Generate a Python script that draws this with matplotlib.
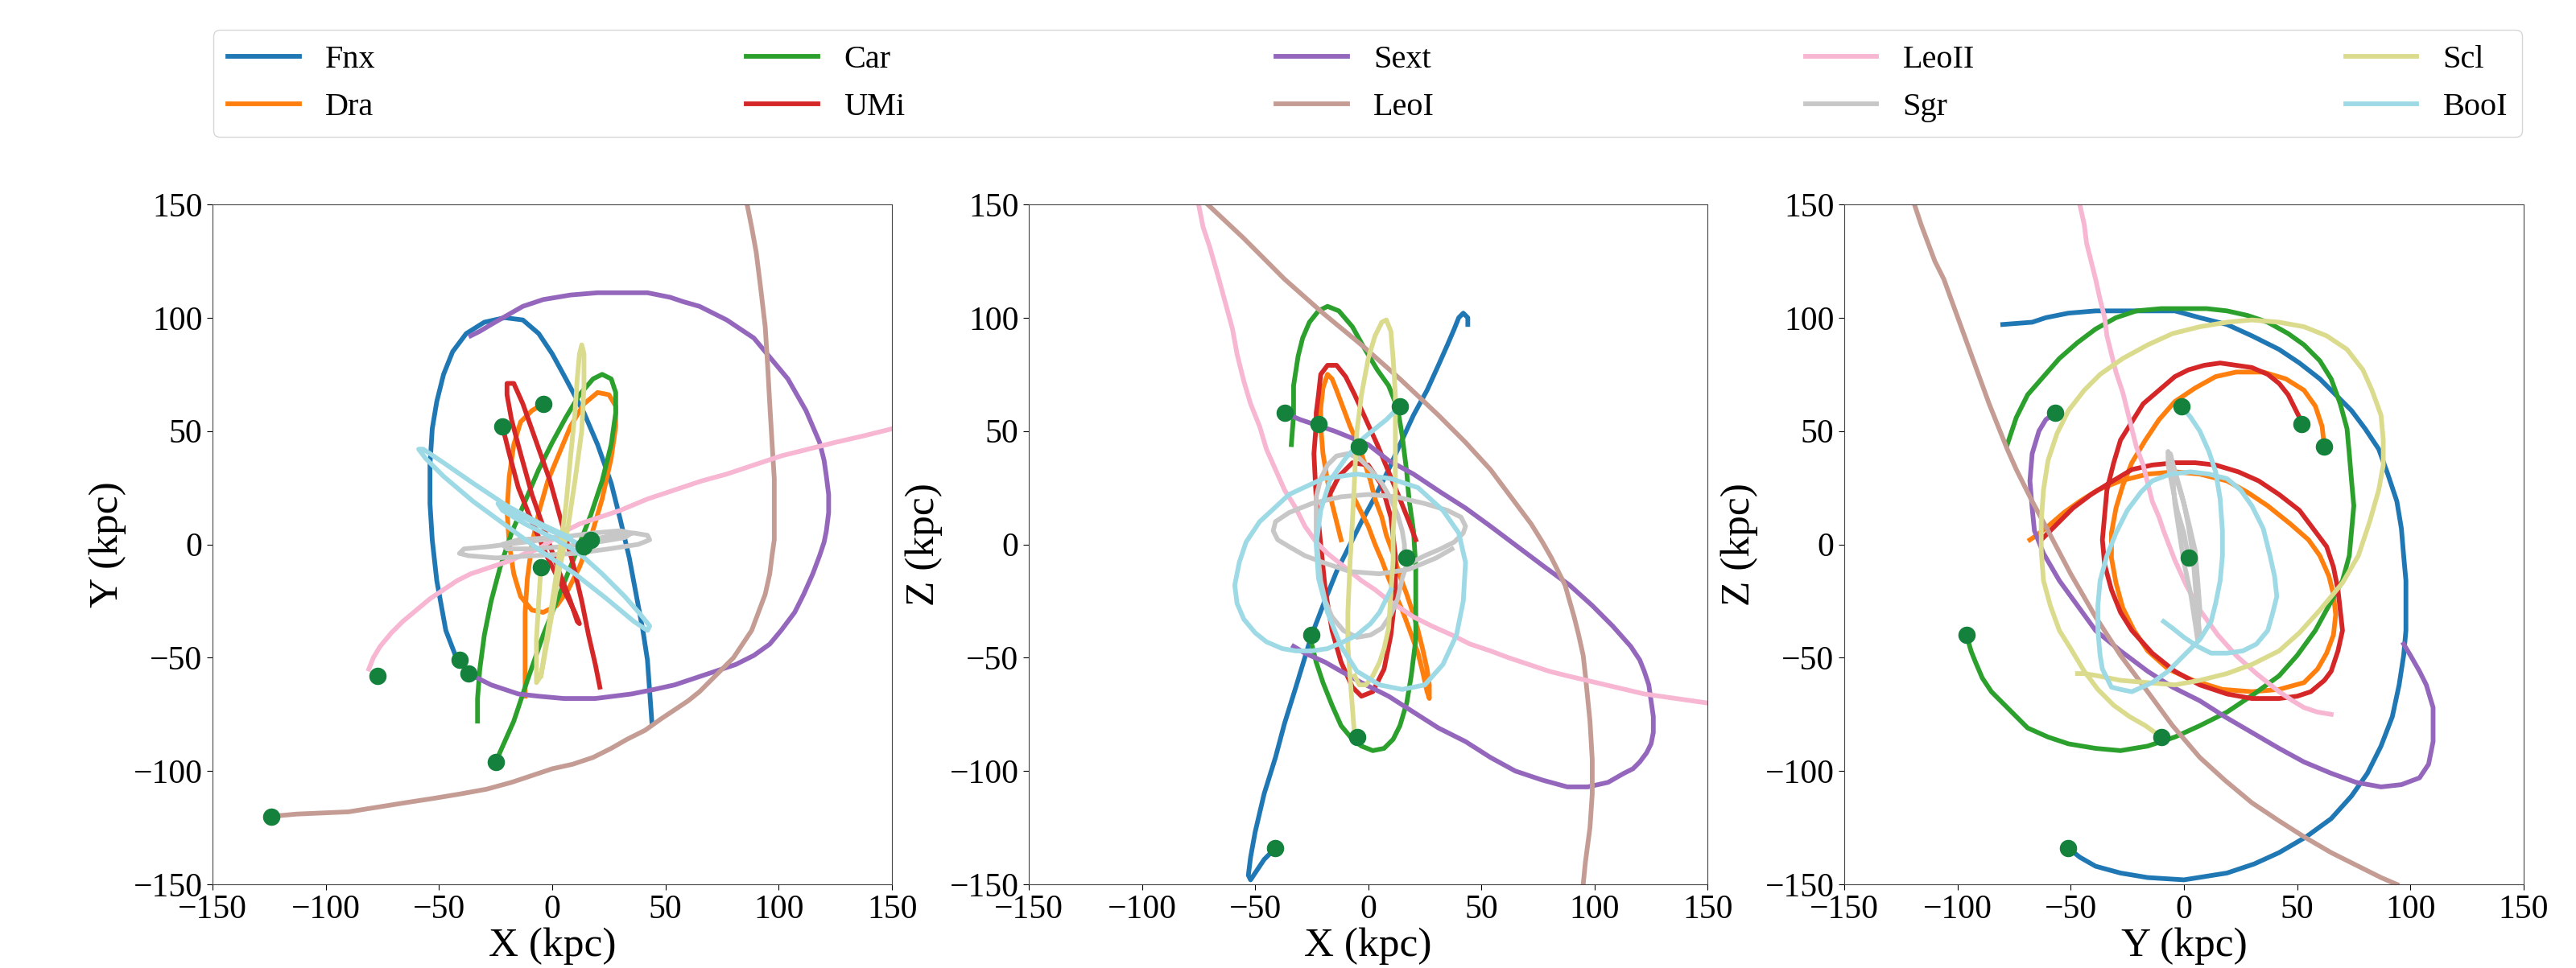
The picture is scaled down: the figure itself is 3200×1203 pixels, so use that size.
import matplotlib.pyplot as plt
import numpy as np

# Galaxias en el orden de la leyenda
names = ['Fnx', 'Dra', 'Car', 'UMi', 'Sext', 'LeoI', 'LeoII', 'Sgr', 'Scl', 'BooI']
colors = ['#1f77b4', '#ff7f0e', '#2ca02c', '#d62728', '#9467bd',
          '#c49c94', '#f7b6d2', '#c7c7c7', '#dbdb8d', '#9edae5']

# Posiciones actuales (kpc)
pos_x = [-41, -4, -25, -22, -37, -124, -77, 17, -5, 14]
pos_y = [-51, 62, -96, 52, -57, -120, -58, 2, -10, -1]
pos_z = [-134, 43, -40, 53, 58, 191, 215, -6, -85, 61]

# ---- Orbitas proyectadas en el plano X-Y ----
fnx_xy = [(-42, -51), (-47, -38), (-51, -16), (-53, 2), (-54, 18), (-54, 35), (-53, 51), (-51, 63),
          (-48, 75), (-44, 85), (-38, 93), (-30, 98), (-21, 100), (-13, 99), (-6, 93), (0, 84), (6, 73),
          (14, 58), (20, 44), (26, 27), (30, 11), (34, -6), (37, -22), (40, -38), (42, -51), (43, -65),
          (44, -79)]
dra_xy = [(-4, 62), (-9, 59), (-14, 54), (-17, 44), (-19, 30), (-20, 15), (-19, 0), (-17, -13), (-14, -23),
          (-9, -29), (-4, -30), (2, -27), (7, -20), (12, -10), (17, 3), (22, 20), (26, 38), (28, 52),
          (28, 61), (25, 66), (20, 67), (14, 62), (8, 52), (3, 40), (-2, 28), (-6, 14), (-9, 0),
          (-11, -15), (-12, -30), (-12, -45), (-12, -58), (-12, -67)]
car_xy = [(-25, -96), (-21, -87), (-17, -78), (-11, -60), (-4, -40), (4, -20), (10, -5), (17, 13),
          (22, 28), (26, 44), (28, 58), (28, 67), (26, 73), (22, 75), (18, 73), (12, 66), (6, 56),
          (0, 45), (-6, 33), (-12, 19), (-18, 5), (-23, -10), (-27, -25), (-30, -40), (-32, -55),
          (-33, -68), (-33, -78)]
umi_xy = [(-22, 52), (-19, 40), (-15, 25), (-9, 10), (-2, -6), (5, -20), (10, -30), (12, -35), (11, -34),
          (8, -25), (3, -12), (-3, 5), (-9, 22), (-14, 40), (-18, 55), (-20, 66), (-20, 71), (-17, 71),
          (-13, 62), (-7, 45), (-1, 28), (4, 10), (9, -8), (13, -25), (16, -40), (19, -53), (21, -63)]
sext_xy = [(-37, -57), (-27, -62), (-15, -66), (-6, -67), (5, -68), (19, -68), (35, -66), (45, -64),
           (54, -62), (63, -59), (72, -56), (81, -53), (89, -49), (96, -44), (101, -38), (107, -30),
           (111, -22), (115, -13), (118, -5), (120, 1), (121, 6), (122, 14), (122, 22), (121, 30),
           (120, 37), (118, 45), (115, 52), (112, 59), (108, 66), (104, 73), (99, 79), (94, 85),
           (89, 91), (83, 95), (77, 99), (71, 102), (65, 105), (58, 107), (52, 109), (42, 111),
           (30, 111), (20, 111), (8, 110), (-4, 108), (-13, 105), (-20, 101), (-27, 97), (-32, 94),
           (-36, 92)]
leoi_xy = [(-124, -120), (-113, -119), (-90, -118), (-65, -114), (-52, -112), (-40, -110), (-29, -108),
           (-18, -105), (-9, -102), (0, -99), (9, -97), (18, -94), (26, -90), (33, -86), (41, -82),
           (48, -77), (54, -73), (60, -69), (65, -65), (70, -60), (75, -55), (80, -50), (84, -44),
           (88, -38), (91, -30), (94, -22), (96, -13), (97, -5), (98, 2), (98, 10), (98, 20), (98, 29),
           (97, 45), (96, 62), (95, 80), (94, 96), (92, 113), (90, 129), (88, 140), (86, 150)]
leoii_xy = [(-81, -55), (-79, -50), (-76, -45), (-71, -39), (-66, -34), (-60, -29), (-54, -24), (-48, -20),
            (-42, -16), (-36, -13), (-30, -11), (-24, -9), (-18, -7), (-12, -4), (-6, -2), (0, 2), (6, 6),
            (12, 9), (18, 11), (30, 15), (42, 20), (54, 24), (66, 28), (77, 31), (89, 35), (101, 39),
            (113, 42), (125, 45), (138, 48), (150, 51)]
sgr_xy = [(17, 2), (27, 4), (36, 5), (42, 4), (43, 2), (38, 0), (25, -2), (10, -4), (-8, -5), (-25, -6),
          (-37, -5), (-41, -4), (-39, -2), (-28, -1), (-12, 1), (3, 3), (18, 5), (30, 6), (35, 5),
          (32, 3), (20, 1), (5, -1), (-10, -2), (-20, -2), (-22, 0), (-15, 2), (0, 3)]
scl_xy = [(-5, -10), (-6, -25), (-7, -42), (-7, -55), (-7, -61), (-5, -58), (-3, -45), (0, -25), (3, -5),
          (6, 17), (8, 38), (10, 58), (11, 73), (12, 84), (13, 88), (14, 84), (14, 70), (13, 50),
          (10, 28), (7, 8), (3, -12), (0, -30), (-3, -47), (-5, -58)]
booi_xy = [(14, -1), (6, 3), (-5, 8), (-15, 13), (-22, 17), (-24, 18), (-22, 15), (-12, 9), (0, 3),
           (12, -4), (22, -13), (32, -23), (39, -31), (43, -36), (42, -38), (36, -34), (24, -24),
           (10, -13), (-5, -3), (-20, 8), (-35, 19), (-48, 30), (-56, 38), (-59, 42), (-57, 42),
           (-48, 36), (-35, 27), (-20, 17), (-5, 9), (8, 3)]

# ---- Plano X-Z ----
fnx_xz = [(-41, -134), (-46, -139), (-50, -145), (-52, -148), (-53, -146), (-52, -138), (-50, -127),
          (-46, -110), (-41, -94), (-37, -79), (-32, -63), (-25, -40), (-20, -27), (-14, -12), (-8, 0),
          (-3, 10), (3, 21), (9, 33), (14, 44), (20, 57), (26, 68), (31, 79), (35, 88), (38, 95),
          (40, 100), (42, 102), (44, 100), (44, 97)]
dra_xz = [(-12, 2), (-14, 10), (-16, 18), (-18, 28), (-20, 40), (-21, 52), (-21, 60), (-20, 69), (-18, 75),
          (-16, 73), (-14, 68), (-11, 60), (-8, 52), (-4, 43), (-2, 37), (1, 28), (3, 20), (6, 12), (8, 4),
          (11, -4), (14, -14), (17, -22), (20, -31), (22, -38), (24, -46), (26, -55), (27, -62),
          (27, -68), (26, -65), (24, -56), (22, -48), (18, -37), (15, -29), (12, -22), (9, -15), (6, -7),
          (3, 0), (0, 8), (-3, 14), (-6, 20)]
car_xz = [(-26, -40), (-23, -52), (-20, -61), (-16, -71), (-12, -80), (-7, -86), (-3, -89), (2, -91),
          (7, -90), (11, -86), (14, -80), (17, -70), (19, -58), (21, -42), (21, -26), (21, -10), (20, 6),
          (18, 20), (17, 32), (15, 48), (13, 60), (9, 70), (4, 77), (-2, 87), (-7, 96), (-13, 103),
          (-18, 105), (-22, 103), (-26, 98), (-29, 91), (-31, 83), (-33, 70), (-33, 57), (-34, 44)]
umi_xz = [(21, 2), (18, 10), (14, 20), (9, 32), (4, 44), (-1, 55), (-6, 66), (-10, 74), (-14, 79),
          (-18, 79), (-21, 75), (-22, 66), (-23, 58), (-23, 53), (-24, 40), (-23, 20), (-21, 0),
          (-19, -20), (-16, -38), (-12, -52), (-7, -63), (-3, -67), (2, -65), (7, -55), (10, -40),
          (12, -22), (12, -5), (10, 12), (6, 26), (0, 35), (-7, 36), (-13, 30), (-18, 20)]
sext_xz = [(-37, 58), (-30, 55), (-15, 50), (0, 44), (9, 37), (20, 31), (32, 23), (43, 16), (54, 8),
           (66, -1), (78, -10), (89, -18), (99, -27), (108, -36), (116, -45), (120, -51), (122, -56),
           (124, -62), (125, -69), (126, -76), (126, -83), (125, -88), (123, -92), (120, -96), (117, -99),
           (113, -101), (106, -105), (97, -107), (88, -107), (77, -104), (65, -100), (54, -94), (43, -87),
           (31, -81), (20, -74), (9, -67), (-3, -61), (-12, -56), (-19, -52), (-28, -48), (-33, -45)]
leoi_xz = [(-71, 150), (-55, 135), (-37, 117), (-20, 102), (-3, 88), (14, 73), (31, 57), (43, 45),
           (54, 33), (60, 25), (66, 17), (72, 9), (77, 1), (81, -6), (84, -12), (87, -18), (89, -25),
           (91, -32), (93, -40), (95, -49), (96, -58), (97, -68), (98, -78), (99, -95), (99, -110),
           (98, -125), (96, -140), (95, -150)]
leoii_xz = [(-75, 150), (-73, 140), (-70, 131), (-68, 124), (-66, 117), (-63, 106), (-60, 95), (-58, 84),
            (-55, 72), (-52, 62), (-48, 52), (-45, 42), (-41, 33), (-37, 24), (-32, 16), (-28, 8),
            (-23, 1), (-18, -4), (-13, -8), (-8, -12), (-3, -16), (3, -20), (8, -24), (14, -28),
            (20, -32), (28, -36), (37, -40), (45, -44), (54, -47), (62, -50), (71, -53), (80, -56),
            (88, -58), (105, -62), (122, -66), (136, -68), (150, -70)]
sgr_xz = [(16, -6), (16, 0), (15, 6), (13, 13), (10, 20), (6, 27), (1, 33), (-4, 38), (-9, 40), (-14, 39),
          (-18, 35), (-21, 29), (-23, 21), (-23, 12), (-23, 3), (-22, -7), (-21, -16), (-19, -25),
          (-16, -32), (-11, -38), (-5, -41), (1, -40), (6, -37), (10, -31), (13, -24), (15, -15),
          (17, -9), (25, -5), (32, -2), (38, 1), (42, 5), (43, 8), (41, 12), (35, 15), (25, 18),
          (12, 21), (0, 22), (-12, 21), (-25, 18), (-35, 14), (-41, 10), (-42, 6), (-40, 2), (-35, -1),
          (-28, -5), (-20, -8), (-8, -12), (5, -13), (18, -11), (30, -6), (37, -2)]
scl_xz = [(-6, -85), (-7, -72), (-8, -59), (-9, -45), (-9, -30), (-8, -7), (-7, 10), (-6, 30), (-5, 50),
          (-3, 66), (0, 82), (3, 92), (6, 98), (8, 99), (10, 94), (11, 82), (12, 66), (12, 52), (12, 35),
          (12, 22), (11, 5), (11, -7), (10, -22), (9, -37), (7, -46), (5, -52), (2, -58), (-1, -62),
          (-4, -62), (-6, -58)]
booi_xz = [(14, 61), (8, 55), (-2, 47), (-10, 38), (-17, 28), (-21, 15), (-23, 0), (-22, -15), (-18, -30),
           (-12, -45), (-5, -56), (5, -62), (15, -64), (25, -62), (33, -53), (39, -40), (42, -25),
           (43, -8), (40, 5), (33, 15), (22, 25), (10, 29), (-5, 31), (-20, 29), (-35, 22), (-48, 10),
           (-54, 1), (-57, -8), (-59, -18), (-58, -26), (-55, -33), (-50, -39), (-45, -43), (-38, -46),
           (-32, -47), (-25, -47), (-18, -46), (-11, -43), (-5, -40), (1, -35), (5, -30), (10, -20)]

# ---- Plano Y-Z ----
fnx_yz = [(-51, -134), (-46, -138), (-39, -142), (-28, -145), (-16, -147), (0, -148), (19, -145),
          (31, -141), (42, -136), (54, -129), (65, -121), (74, -111), (81, -101), (87, -89), (92, -76),
          (95, -62), (97, -49), (98, -38), (98, -27), (98, -16), (97, -5), (96, 7), (94, 19), (90, 31),
          (86, 42), (80, 51), (74, 59), (67, 66), (60, 73), (51, 80), (42, 86), (30, 92), (19, 97),
          (7, 100), (-4, 103), (-16, 103), (-28, 103), (-39, 103), (-51, 102), (-61, 100), (-67, 98),
          (-80, 97)]
dra_yz = [(62, 43), (61, 52), (58, 61), (53, 68), (45, 73), (35, 76), (23, 76), (14, 74), (5, 69), (-4, 63),
          (-11, 55), (-17, 46), (-23, 36), (-27, 26), (-30, 16), (-32, 5), (-32, -6), (-30, -17),
          (-27, -28), (-22, -38), (-16, -47), (-7, -55), (4, -60), (17, -64), (30, -65), (42, -64),
          (53, -61), (59, -55), (63, -48), (66, -40), (67, -31), (66, -22), (64, -14), (60, -5), (55, 2),
          (47, 9), (37, 17), (28, 23), (19, 28), (7, 31), (-4, 32), (-16, 31), (-28, 28), (-38, 24),
          (-46, 19), (-53, 14), (-60, 8), (-65, 4), (-68, 2)]
car_yz = [(-96, -40), (-94, -47), (-92, -52), (-89, -59), (-85, -65), (-77, -73), (-69, -81), (-60, -85),
          (-51, -88), (-39, -90), (-28, -91), (-16, -89), (-4, -85), (7, -80), (19, -74), (31, -66),
          (42, -58), (50, -49), (58, -38), (64, -27), (70, -16), (73, -5), (74, 6), (75, 17), (74, 28),
          (73, 40), (72, 51), (69, 62), (65, 73), (60, 81), (53, 88), (46, 93), (37, 98), (28, 101),
          (19, 103), (10, 104), (0, 104), (-10, 104), (-21, 103), (-30, 100), (-39, 95), (-47, 89),
          (-55, 82), (-62, 74), (-69, 66), (-74, 56), (-78, 44)]
umi_yz = [(52, 54), (49, 60), (46, 66), (42, 71), (37, 75), (30, 78), (23, 79), (16, 80), (9, 79), (2, 77),
          (-4, 74), (-11, 68), (-18, 62), (-23, 54), (-28, 46), (-31, 36), (-34, 24), (-35, 13), (-36, 2),
          (-35, -9), (-32, -20), (-28, -30), (-23, -38), (-14, -48), (-4, -56), (7, -62), (19, -66),
          (30, -68), (42, -68), (50, -67), (56, -65), (62, -60), (65, -56), (68, -47), (70, -38),
          (69, -29), (68, -20), (66, -10), (63, -1), (57, 7), (51, 15), (42, 22), (33, 28), (24, 32),
          (14, 35), (5, 36), (-4, 36), (-14, 35), (-23, 33), (-33, 27), (-41, 22), (-49, 16), (-55, 10),
          (-60, 5), (-63, 2)]
sext_yz = [(-57, 58), (-61, 55), (-64, 50), (-67, 40), (-68, 28), (-67, 16), (-66, 6), (-62, -4),
           (-55, -16), (-47, -27), (-39, -38), (-28, -47), (-16, -56), (-5, -63), (7, -69), (18, -76),
           (30, -83), (42, -90), (53, -96), (65, -101), (76, -105), (87, -107), (96, -106), (104, -103),
           (108, -97), (110, -87), (110, -72), (107, -62), (104, -56), (100, -49), (97, -44)]
leoi_yz = [(-119, 150), (-116, 141), (-113, 133), (-110, 125), (-106, 117), (-102, 106), (-98, 95),
           (-94, 84), (-90, 73), (-86, 62), (-82, 52), (-78, 42), (-74, 33), (-67, 19), (-60, 6),
           (-50, -13), (-39, -32), (-28, -49), (-16, -65), (-5, -80), (7, -94), (18, -104), (30, -114),
           (42, -122), (53, -129), (65, -136), (77, -142), (87, -147), (94, -150)]
leoii_yz = [(-46, 150), (-44, 141), (-43, 133), (-41, 125), (-39, 117), (-37, 108), (-35, 100), (-34, 92),
            (-32, 84), (-30, 76), (-27, 67), (-25, 59), (-23, 51), (-21, 43), (-18, 35), (-16, 27),
            (-14, 19), (-11, 12), (-9, 6), (-4, -7), (1, -18), (7, -29), (15, -40), (23, -49), (32, -57),
            (42, -65), (48, -69), (53, -72), (59, -74), (65, -75)]
sgr_yz = [(2, -6), (0, 5), (-3, 15), (-5, 25), (-7, 35), (-7, 41), (-6, 38), (-3, 28), (0, 18), (2, 8),
          (4, -5), (5, -18), (6, -30), (7, -40), (6, -42), (5, -35), (3, -22), (0, -8), (-2, 5), (-4, 18),
          (-5, 30), (-6, 40), (-5, 36), (-1, 22), (2, 10), (5, -3), (6, -15), (7, -28), (6, -38)]
scl_yz = [(-10, -85), (-17, -80), (-24, -76), (-31, -71), (-38, -64), (-44, -56), (-50, -46), (-55, -38),
          (-59, -27), (-62, -16), (-63, -3), (-63, 10), (-62, 24), (-60, 37), (-56, 49), (-51, 59),
          (-44, 68), (-37, 75), (-27, 82), (-16, 88), (-5, 93), (7, 96), (19, 98), (30, 99), (42, 98),
          (53, 96), (63, 92), (72, 86), (79, 77), (83, 68), (87, 57), (88, 46), (88, 35), (86, 24),
          (82, 10), (77, -5), (70, -17), (60, -29), (51, -39), (42, -47), (30, -53), (19, -57), (7, -60),
          (-4, -62), (-16, -61), (-28, -60), (-38, -58), (-44, -57), (-47, -57)]
booi_yz = [(-1, 61), (3, 56), (7, 50), (11, 41), (14, 32), (16, 20), (17, 6), (17, -5), (16, -16),
           (14, -26), (12, -34), (7, -42), (0, -49), (-7, -56), (-14, -61), (-23, -65), (-28, -64),
           (-32, -63), (-36, -55), (-37, -49), (-38, -38), (-38, -27), (-37, -16), (-34, -5), (-30, 5),
           (-25, 15), (-19, 23), (-14, 28), (-6, 31), (3, 32), (11, 31), (19, 29), (25, 24), (30, 17),
           (35, 7), (38, -5), (40, -14), (41, -23), (39, -31), (37, -38), (32, -44), (26, -47), (19, -48),
           (12, -48), (6, -45), (0, -41), (-5, -37), (-9, -34)]

orbits_xy = [fnx_xy, dra_xy, car_xy, umi_xy, sext_xy, leoi_xy, leoii_xy, sgr_xy, scl_xy, booi_xy]
orbits_xz = [fnx_xz, dra_xz, car_xz, umi_xz, sext_xz, leoi_xz, leoii_xz, sgr_xz, scl_xz, booi_xz]
orbits_yz = [fnx_yz, dra_yz, car_yz, umi_yz, sext_yz, leoi_yz, leoii_yz, sgr_yz, scl_yz, booi_yz]

plt.rcParams['font.family'] = 'serif'
plt.rcParams['font.serif'] = ['Liberation Serif', 'DejaVu Serif']
plt.rcParams['mathtext.fontset'] = 'stix'

fig = plt.figure(figsize=(32, 12.03), dpi=100)
ax1 = fig.add_axes([0.0825, 0.0864, 0.2638, 0.7025])
ax2 = fig.add_axes([0.3994, 0.0864, 0.2635, 0.7025])
ax3 = fig.add_axes([0.7159, 0.0864, 0.2638, 0.7025])

paneles = [(ax1, orbits_xy, pos_x, pos_y, 'X (kpc)', 'Y (kpc)'),
           (ax2, orbits_xz, pos_x, pos_z, 'X (kpc)', 'Z (kpc)'),
           (ax3, orbits_yz, pos_y, pos_z, 'Y (kpc)', 'Z (kpc)')]

for ax, orbs, px, py, xl, yl in paneles:
    for name, orb, c in zip(names, orbs, colors):
        a = np.array(orb)
        ax.plot(a[:, 0], a[:, 1], color=c, lw=4.2, label=name, solid_joinstyle='round')
    ax.scatter(px, py, color='#14823c', s=210, zorder=5)
    ax.set_xlim(-150, 150)
    ax.set_ylim(-150, 150)
    ax.set_xticks(np.arange(-150, 151, 50))
    ax.set_yticks(np.arange(-150, 151, 50))
    ax.tick_params(labelsize=30, length=5, pad=4)
    for s in ax.spines.values():
        s.set_color('#444444')
    ax.set_xlabel(xl, fontsize=37, labelpad=2)
    ax.set_ylabel(yl, fontsize=37, labelpad=6)

handles, labels = ax1.get_legend_handles_labels()
fig.legend(handles, labels, loc='upper center', ncol=5, mode='expand', fontsize=29,
           bbox_to_anchor=(0.0828, 0.86, 0.8963, 0.109), handlelength=2.2, handletextpad=0.8,
           labelspacing=0.55, borderaxespad=0.0, borderpad=0.45)

plt.savefig('out.png', dpi=100)
